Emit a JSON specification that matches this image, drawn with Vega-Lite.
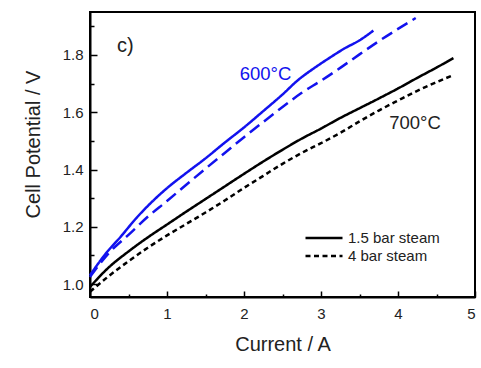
{
  "$schema": "https://vega.github.io/schema/vega-lite/v6.json",
  "width": 385,
  "height": 285,
  "autosize": {"type": "none"},
  "padding": {"left": 90, "top": 12, "right": 6, "bottom": 71},
  "background": "white",
  "config": {
    "font": "Liberation Sans",
    "view": {"stroke": "#000", "strokeWidth": 2},
    "axis": {
      "domainColor": "#000",
      "domainWidth": 2,
      "tickColor": "#000",
      "tickWidth": 1.5,
      "grid": false,
      "labelFont": "Liberation Sans",
      "labelFontSize": 15,
      "labelColor": "#222",
      "titleFont": "Liberation Sans",
      "titleFontSize": 20,
      "titleFontWeight": "normal",
      "titleColor": "#222"
    }
  },
  "datasets": {
    "curves": [
      {"temp": "600°C", "steam": "1.5 bar steam", "I": 0.0, "V": 1.031},
      {"temp": "600°C", "steam": "1.5 bar steam", "I": 0.2, "V": 1.105},
      {"temp": "600°C", "steam": "1.5 bar steam", "I": 0.4, "V": 1.166},
      {"temp": "600°C", "steam": "1.5 bar steam", "I": 0.6, "V": 1.23},
      {"temp": "600°C", "steam": "1.5 bar steam", "I": 0.8, "V": 1.286},
      {"temp": "600°C", "steam": "1.5 bar steam", "I": 1.0, "V": 1.335},
      {"temp": "600°C", "steam": "1.5 bar steam", "I": 1.25, "V": 1.388},
      {"temp": "600°C", "steam": "1.5 bar steam", "I": 1.5, "V": 1.439},
      {"temp": "600°C", "steam": "1.5 bar steam", "I": 1.75, "V": 1.494},
      {"temp": "600°C", "steam": "1.5 bar steam", "I": 2.0, "V": 1.547},
      {"temp": "600°C", "steam": "1.5 bar steam", "I": 2.25, "V": 1.604},
      {"temp": "600°C", "steam": "1.5 bar steam", "I": 2.5, "V": 1.662},
      {"temp": "600°C", "steam": "1.5 bar steam", "I": 2.7, "V": 1.712},
      {"temp": "600°C", "steam": "1.5 bar steam", "I": 2.9, "V": 1.752},
      {"temp": "600°C", "steam": "1.5 bar steam", "I": 3.1, "V": 1.788},
      {"temp": "600°C", "steam": "1.5 bar steam", "I": 3.3, "V": 1.822},
      {"temp": "600°C", "steam": "1.5 bar steam", "I": 3.5, "V": 1.851},
      {"temp": "600°C", "steam": "1.5 bar steam", "I": 3.68, "V": 1.885},
      {"temp": "600°C", "steam": "4 bar steam", "I": 0.0, "V": 1.025},
      {"temp": "600°C", "steam": "4 bar steam", "I": 0.25, "V": 1.11},
      {"temp": "600°C", "steam": "4 bar steam", "I": 0.5, "V": 1.172},
      {"temp": "600°C", "steam": "4 bar steam", "I": 0.75, "V": 1.235},
      {"temp": "600°C", "steam": "4 bar steam", "I": 1.0, "V": 1.29},
      {"temp": "600°C", "steam": "4 bar steam", "I": 1.25, "V": 1.347},
      {"temp": "600°C", "steam": "4 bar steam", "I": 1.5, "V": 1.403},
      {"temp": "600°C", "steam": "4 bar steam", "I": 1.75, "V": 1.458},
      {"temp": "600°C", "steam": "4 bar steam", "I": 2.0, "V": 1.513},
      {"temp": "600°C", "steam": "4 bar steam", "I": 2.25, "V": 1.566},
      {"temp": "600°C", "steam": "4 bar steam", "I": 2.5, "V": 1.618},
      {"temp": "600°C", "steam": "4 bar steam", "I": 2.75, "V": 1.668},
      {"temp": "600°C", "steam": "4 bar steam", "I": 3.0, "V": 1.71},
      {"temp": "600°C", "steam": "4 bar steam", "I": 3.25, "V": 1.755},
      {"temp": "600°C", "steam": "4 bar steam", "I": 3.5, "V": 1.802},
      {"temp": "600°C", "steam": "4 bar steam", "I": 3.75, "V": 1.848},
      {"temp": "600°C", "steam": "4 bar steam", "I": 4.0, "V": 1.891},
      {"temp": "600°C", "steam": "4 bar steam", "I": 4.23, "V": 1.929},
      {"temp": "700°C", "steam": "1.5 bar steam", "I": 0.0, "V": 0.99},
      {"temp": "700°C", "steam": "1.5 bar steam", "I": 0.23, "V": 1.055},
      {"temp": "700°C", "steam": "1.5 bar steam", "I": 0.5, "V": 1.114},
      {"temp": "700°C", "steam": "1.5 bar steam", "I": 0.75, "V": 1.163},
      {"temp": "700°C", "steam": "1.5 bar steam", "I": 1.0, "V": 1.208},
      {"temp": "700°C", "steam": "1.5 bar steam", "I": 1.25, "V": 1.253},
      {"temp": "700°C", "steam": "1.5 bar steam", "I": 1.5, "V": 1.297},
      {"temp": "700°C", "steam": "1.5 bar steam", "I": 1.75, "V": 1.341},
      {"temp": "700°C", "steam": "1.5 bar steam", "I": 2.0, "V": 1.385},
      {"temp": "700°C", "steam": "1.5 bar steam", "I": 2.25, "V": 1.428},
      {"temp": "700°C", "steam": "1.5 bar steam", "I": 2.5, "V": 1.469},
      {"temp": "700°C", "steam": "1.5 bar steam", "I": 2.75, "V": 1.508},
      {"temp": "700°C", "steam": "1.5 bar steam", "I": 3.0, "V": 1.543},
      {"temp": "700°C", "steam": "1.5 bar steam", "I": 3.25, "V": 1.58},
      {"temp": "700°C", "steam": "1.5 bar steam", "I": 3.5, "V": 1.614},
      {"temp": "700°C", "steam": "1.5 bar steam", "I": 3.75, "V": 1.648},
      {"temp": "700°C", "steam": "1.5 bar steam", "I": 4.0, "V": 1.683},
      {"temp": "700°C", "steam": "1.5 bar steam", "I": 4.25, "V": 1.72},
      {"temp": "700°C", "steam": "1.5 bar steam", "I": 4.5, "V": 1.756},
      {"temp": "700°C", "steam": "1.5 bar steam", "I": 4.72, "V": 1.789},
      {"temp": "700°C", "steam": "4 bar steam", "I": 0.0, "V": 0.973},
      {"temp": "700°C", "steam": "4 bar steam", "I": 0.23, "V": 1.025},
      {"temp": "700°C", "steam": "4 bar steam", "I": 0.5, "V": 1.08},
      {"temp": "700°C", "steam": "4 bar steam", "I": 0.75, "V": 1.127},
      {"temp": "700°C", "steam": "4 bar steam", "I": 1.0, "V": 1.17},
      {"temp": "700°C", "steam": "4 bar steam", "I": 1.25, "V": 1.21},
      {"temp": "700°C", "steam": "4 bar steam", "I": 1.5, "V": 1.25},
      {"temp": "700°C", "steam": "4 bar steam", "I": 1.75, "V": 1.292},
      {"temp": "700°C", "steam": "4 bar steam", "I": 2.0, "V": 1.336},
      {"temp": "700°C", "steam": "4 bar steam", "I": 2.25, "V": 1.378},
      {"temp": "700°C", "steam": "4 bar steam", "I": 2.5, "V": 1.42},
      {"temp": "700°C", "steam": "4 bar steam", "I": 2.75, "V": 1.458},
      {"temp": "700°C", "steam": "4 bar steam", "I": 3.0, "V": 1.492},
      {"temp": "700°C", "steam": "4 bar steam", "I": 3.25, "V": 1.528},
      {"temp": "700°C", "steam": "4 bar steam", "I": 3.5, "V": 1.568},
      {"temp": "700°C", "steam": "4 bar steam", "I": 3.75, "V": 1.606},
      {"temp": "700°C", "steam": "4 bar steam", "I": 4.0, "V": 1.641},
      {"temp": "700°C", "steam": "4 bar steam", "I": 4.25, "V": 1.675},
      {"temp": "700°C", "steam": "4 bar steam", "I": 4.5, "V": 1.705},
      {"temp": "700°C", "steam": "4 bar steam", "I": 4.72, "V": 1.73}
    ],
    "notes": [
      {"note": "c)", "I": 0.46, "V": 1.833},
      {"note": "600°C", "I": 2.28, "V": 1.735},
      {"note": "700°C", "I": 4.22, "V": 1.561}
    ]
  },
  "encoding": {
    "x": {
      "field": "I", "type": "quantitative", "title": "Current / A",
      "scale": {"domain": [0, 5], "nice": false, "zero": false},
      "axis": {
        "values": [0, 0.5, 1, 1.5, 2, 2.5, 3, 3.5, 4, 4.5, 5],
        "labelExpr": "datum.value % 1 == 0 ? format(datum.value, 'd') : ''",
        "tickSize": {"condition": {"test": "datum.value % 1 == 0", "value": -6}, "value": -3},
        "labelPadding": 15,
        "titlePadding": 13
      }
    },
    "y": {
      "field": "V", "type": "quantitative", "title": "Cell Potential / V",
      "scale": {"domain": [0.955, 1.95], "nice": false, "zero": false},
      "axis": {
        "values": [1.0, 1.1, 1.2, 1.3, 1.4, 1.5, 1.6, 1.7, 1.8, 1.9],
        "labelExpr": "round(datum.value * 10) % 2 == 0 ? format(datum.value, '.1f') : ''",
        "tickSize": {"condition": {"test": "round(datum.value * 10) % 2 == 0", "value": -7}, "value": -4},
        "labelPadding": 14,
        "titlePadding": 19,
        "titleY": 132
      }
    }
  },
  "layer": [
    {
      "data": {"name": "curves"},
      "transform": [{"filter": "datum.temp == '600°C'"}],
      "mark": {"type": "line", "color": "#1212ee", "strokeWidth": 2.5, "interpolate": "monotone"},
      "encoding": {
        "detail": {"field": "steam"},
        "strokeDash": {
          "field": "steam", "type": "nominal",
          "scale": {"domain": ["1.5 bar steam", "4 bar steam"], "range": [[1, 0], [12, 6]]},
          "legend": null
        }
      }
    },
    {
      "data": {"name": "curves"},
      "transform": [{"filter": "datum.temp == '700°C'"}],
      "mark": {"type": "line", "color": "#000", "strokeWidth": 2.5, "interpolate": "monotone"},
      "encoding": {
        "detail": {"field": "steam"},
        "strokeDash": {
          "field": "steam", "type": "nominal",
          "scale": {"domain": ["1.5 bar steam", "4 bar steam"], "range": [[1, 0], [5, 3.5]]},
          "legend": {
            "title": null,
            "orient": "none",
            "legendX": 214,
            "legendY": 218,
            "labelFont": "Liberation Sans",
            "labelFontSize": 15,
            "labelColor": "#222",
            "symbolType": "stroke",
            "symbolStrokeWidth": 2.5,
            "symbolStrokeColor": "#000",
            "symbolSize": 1369,
            "labelOffset": 4,
            "clipHeight": 16,
            "rowPadding": 2
          }
        }
      }
    },
    {
      "data": {"name": "notes"},
      "transform": [{"filter": "datum.note == 'c)'"}],
      "mark": {"type": "text", "fontSize": 20, "color": "#222", "font": "Liberation Sans"},
      "encoding": {"text": {"field": "note"}}
    },
    {
      "data": {"name": "notes"},
      "transform": [{"filter": "datum.note == '600°C'"}],
      "mark": {"type": "text", "fontSize": 18.5, "color": "#1212ee", "font": "Liberation Sans"},
      "encoding": {"text": {"field": "note"}}
    },
    {
      "data": {"name": "notes"},
      "transform": [{"filter": "datum.note == '700°C'"}],
      "mark": {"type": "text", "fontSize": 18.5, "color": "#222", "font": "Liberation Sans"},
      "encoding": {"text": {"field": "note"}}
    }
  ],
  "resolve": {"scale": {"strokeDash": "independent"}}
}
